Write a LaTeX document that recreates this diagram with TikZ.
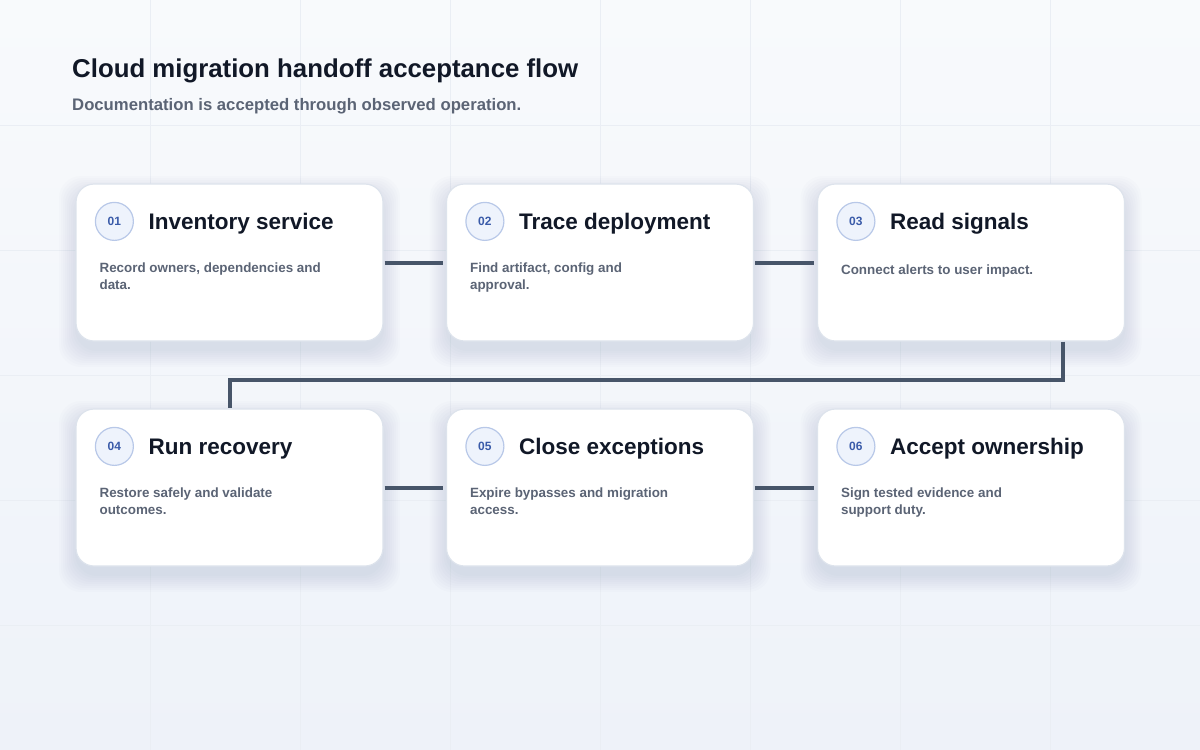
\documentclass[tikz,border=0pt]{standalone}
\usepackage{fontspec}
\setmainfont{Liberation Sans}
\usetikzlibrary{positioning,calc}
\definecolor{inkdark}{HTML}{111827}
\definecolor{inkgray}{HTML}{5B6475}
\definecolor{linkgray}{HTML}{475569}
\definecolor{cardline}{HTML}{DDE3EC}
\definecolor{badgefill}{HTML}{EEF3FC}
\definecolor{badgeline}{HTML}{B8C8E8}
\definecolor{badgeink}{HTML}{3A5BA9}
\definecolor{bgtop}{HTML}{F8FAFC}
\definecolor{bgbottom}{HTML}{EEF2F9}
\definecolor{gridline}{HTML}{EAEEF4}
\definecolor{shadowc}{HTML}{1E3A6E}
\tikzset{
	card/.style={draw=cardline, line width=1.2pt, fill=white,
		rounded corners=18pt, minimum width=307pt, minimum height=157pt},
	cardshadow/.style={fill=shadowc, opacity=0.011, rounded corners=22pt},
	badge/.style={circle, draw=badgeline, fill=badgefill, line width=1.2pt,
		minimum size=38pt, inner sep=0pt, text=badgeink,
		font=\fontsize{12}{14}\selectfont\bfseries},
	cardtitle/.style={anchor=base west, inner sep=0pt, text=inkdark,
		font=\fontsize{22.5}{26}\selectfont\bfseries},
	cardtext/.style={anchor=north west, inner sep=0pt, align=left, text=inkgray,
		font=\fontsize{13.4}{16.8}\selectfont\bfseries,
		execute at begin node=\strut},
	link/.style={draw=linkgray, line width=4pt}
}
\newcommand{\stepcard}[6]{%
	% name, x, y, number, title, description
	\foreach \s in {1,3,...,17}
		\fill[cardshadow] (#2-153.5-\s,#3-78.5-\s+9) rectangle (#2+153.5+\s,#3+78.5+\s+9);
	\node[card] (#1) at (#2,#3) {};
	\node[badge] (#1num) at ($(#1.north west)+(39,38)$) {#4};
	\node[cardtitle] (#1title) at ($(#1.north west)+(73,46)$) {#5};
	\node[cardtext] (#1text) at ($(#1.north west)+(24,79.5)$) {#6};
}

\begin{document}
\begin{tikzpicture}[x=1pt,y=-1pt]
	\useasboundingbox (0,0) rectangle (1200,750);
	\shade[top color=bgtop, bottom color=bgbottom] (0,0) rectangle (1200,750);
	\foreach \x in {150,300,...,1050}
		\draw[gridline, line width=1pt] (\x,0) -- (\x,750);
	\foreach \y in {125,250,...,625}
		\draw[gridline, line width=1pt] (0,\y) -- (1200,\y);
	\node[anchor=base west, inner sep=0pt, text=inkdark,
		font=\fontsize{25.8}{30}\selectfont\bfseries] (title) at (72,77)
		{Cloud migration handoff acceptance flow};
	\node[anchor=base west, inner sep=0pt, text=inkgray,
		font=\fontsize{16.7}{20}\selectfont\bfseries] (subtitle) at (72,110)
		{Documentation is accepted through observed operation.};
	\stepcard{inv}{229.5}{262.5}{01}{Inventory service}{Record owners, dependencies and\\data.}
	\stepcard{trace}{600}{262.5}{02}{Trace deployment}{Find artifact, config and\\approval.}
	\stepcard{signals}{971}{262.5}{03}{Read signals}{Connect alerts to user impact.}
	\stepcard{recovery}{229.5}{487.5}{04}{Run recovery}{Restore safely and validate\\outcomes.}
	\stepcard{except}{600}{487.5}{05}{Close exceptions}{Expire bypasses and migration\\access.}
	\stepcard{accept}{971}{487.5}{06}{Accept ownership}{Sign tested evidence and\\support duty.}
	\draw[link, shorten <=1pt, shorten >=3pt] (inv.east) -- (trace.west);
	\draw[link, shorten <=1pt, shorten >=3pt] (trace.east) -- (signals.west);
	\draw[link, shorten <=1pt, shorten >=3pt] (recovery.east) -- (except.west);
	\draw[link, shorten <=1pt, shorten >=3pt] (except.east) -- (accept.west);
	\coordinate (drop) at ($(signals.south east)+(-62,0)$);
	\draw[link] (drop) -- ++(0,38) -| (recovery.north);
\end{tikzpicture}
\end{document}
